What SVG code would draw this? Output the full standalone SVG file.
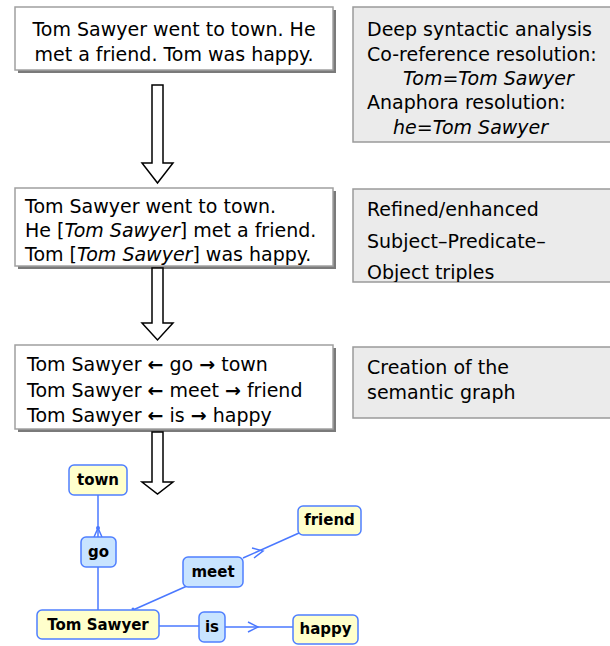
<svg xmlns="http://www.w3.org/2000/svg" width="610" height="646" viewBox="0 0 610 646">
<style>
.t{font-family:"DejaVu Sans",Verdana,sans-serif;font-size:19px;fill:#000}
.i{font-style:italic}
.a{font-weight:bold}
.shadow{fill:#7a7a7a}
.box{fill:#fff;stroke:#a0a0a0;stroke-width:1.5}
.gbox{fill:#ebebeb;stroke:#9a9a9a;stroke-width:1.5}
.blk{fill:#fff;stroke:#000;stroke-width:1.5}
.n{font-family:"DejaVu Sans",Verdana,sans-serif;font-size:15px;font-weight:bold;fill:#000;text-anchor:middle}
.yn{fill:#ffffcc;stroke:#4f7fff;stroke-width:1.5}
.bn{fill:#c8e4ff;stroke:#4f7fff;stroke-width:1.5}
.e{stroke:#4a78ff;stroke-width:1.5;fill:none}
</style>
<defs>
<clipPath id="cb"><rect x="353" y="189" width="260" height="93"/></clipPath>
</defs>

<g id="box1">
<rect class="shadow" x="18" y="10" width="318" height="63"/>
<rect class="box" x="15" y="7" width="318" height="63"/>
<text class="t" x="174" y="36" text-anchor="middle">Tom Sawyer went to town. He</text>
<text class="t" x="174" y="61" text-anchor="middle">met a friend. Tom was happy.</text>
</g>

<g id="info1">
<rect class="gbox" x="353" y="7" width="262" height="135"/>
<text class="t" x="367" y="36">Deep syntactic analysis</text>
<text class="t" x="367" y="61">Co-reference resolution:</text>
<text class="t i" x="403" y="85">Tom=Tom Sawyer</text>
<text class="t" x="367" y="109">Anaphora resolution:</text>
<text class="t i" x="393" y="134">he=Tom Sawyer</text>
</g>

<g id="box2">
<rect class="shadow" x="18" y="191" width="318" height="78"/>
<rect class="box" x="15" y="188" width="318" height="78"/>
<text class="t" x="25" y="213">Tom Sawyer went to town.</text>
<text class="t" x="25" y="237">He [<tspan class="i">Tom Sawyer</tspan>] met a friend.</text>
<text class="t" x="25" y="261">Tom [<tspan class="i">Tom Sawyer</tspan>] was happy.</text>
</g>

<g id="info2">
<rect class="gbox" x="353" y="189" width="262" height="93"/>
<g clip-path="url(#cb)">
<text class="t" x="367" y="216">Refined/enhanced</text>
<text class="t" x="367" y="248">Subject–Predicate–</text>
<text class="t" x="367" y="279">Object triples</text>
</g>
</g>

<g id="box3">
<rect class="shadow" x="18" y="348" width="318" height="84"/>
<rect class="box" x="15" y="345" width="318" height="84"/>
<text class="t" x="27" y="371">Tom Sawyer <tspan class="a">←</tspan> go <tspan class="a">→</tspan> town</text>
<text class="t" x="27" y="397">Tom Sawyer <tspan class="a">←</tspan> meet <tspan class="a">→</tspan> friend</text>
<text class="t" x="27" y="422">Tom Sawyer <tspan class="a">←</tspan> is <tspan class="a">→</tspan> happy</text>
</g>

<g id="info3">
<rect class="gbox" x="353" y="347" width="262" height="71"/>
<text class="t" x="367" y="374">Creation of the</text>
<text class="t" x="367" y="399">semantic graph</text>
</g>

<g id="arrows">
<polygon class="blk" points="152,85 163,85 163,163 173,163 157.5,183 142,163 152,163"/>
<polygon class="blk" points="152,268 163,268 163,323 173,323 157.5,340 142,323 152,323"/>
<polygon class="blk" points="152,432 163,432 163,482 173,482 157.5,494 142,482 152,482"/>
</g>

<g id="connectors">
<line class="e" x1="98" y1="495" x2="98" y2="537"/>
<polyline class="e" points="94,537 98,528 102,537"/>
<circle cx="98" cy="528" r="2" fill="#4a78ff"/>
<line class="e" x1="98" y1="567" x2="98" y2="610"/>
<line class="e" x1="133" y1="610" x2="187" y2="586"/>
<circle cx="133" cy="609" r="1.5" fill="#4a78ff"/>
<line class="e" x1="243" y1="558" x2="299" y2="533"/>
<polyline class="e" points="252,548 263,551 254,558"/>
<line class="e" x1="159" y1="626" x2="199" y2="626"/>
<line class="e" x1="225" y1="627" x2="293" y2="627"/>
<polyline class="e" points="248,622 258,627 248,632"/>
</g>

<g id="n-town">
<rect class="yn" x="69" y="465" width="58" height="30" rx="5"/>
<text class="n" x="98" y="485">town</text>
</g>
<g id="n-go">
<rect class="bn" x="81" y="537" width="35" height="30" rx="5"/>
<text class="n" x="98.5" y="557">go</text>
</g>
<g id="n-tom">
<rect class="yn" x="37" y="610" width="122" height="29" rx="5"/>
<text class="n" x="98" y="630">Tom Sawyer</text>
</g>
<g id="n-meet">
<rect class="bn" x="183" y="557" width="60" height="30" rx="5"/>
<text class="n" x="213" y="577">meet</text>
</g>
<g id="n-friend">
<rect class="yn" x="298" y="506" width="63" height="29" rx="5"/>
<text class="n" x="329.5" y="525">friend</text>
</g>
<g id="n-is">
<rect class="bn" x="199" y="612" width="26" height="30" rx="5"/>
<text class="n" x="212" y="632">is</text>
</g>
<g id="n-happy">
<rect class="yn" x="293" y="615" width="65" height="29" rx="5"/>
<text class="n" x="325.5" y="634">happy</text>
</g>
</svg>
